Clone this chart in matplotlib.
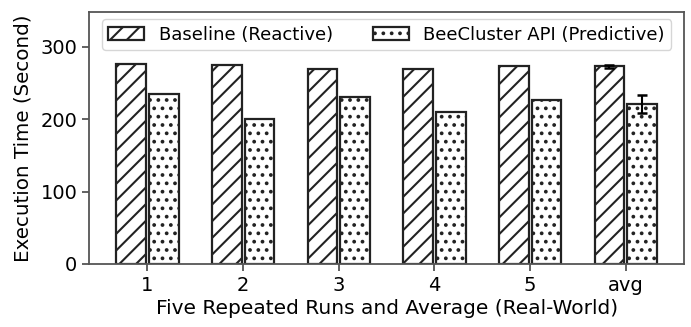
import matplotlib
matplotlib.use("Agg")
import matplotlib.pyplot as plt
import numpy as np

categories = ["1", "2", "3", "4", "5", "avg"]
baseline = [276, 275, 270, 269, 274, 273]
beecluster = [235, 200, 230, 210, 227, 221]
baseline_err = [0, 0, 0, 0, 0, 2]
beecluster_err = [0, 0, 0, 0, 0, 13]

plt.rcParams['hatch.linewidth'] = 1.5
fig, ax = plt.subplots(figsize=(6.91, 3.27), dpi=100)
x = np.arange(len(categories))
w = 0.31
off = 0.17
ax.bar(x - off, baseline, w, color='white', edgecolor='#222222', hatch='//',
       linewidth=1.6, label='Baseline (Reactive)')
ax.bar(x + off, beecluster, w, color='white', edgecolor='#222222', hatch='..',
       linewidth=1.6, label='BeeCluster API (Predictive)')
ekw = dict(fmt='none', elinewidth=1.5, capthick=1.8, ecolor='black', capsize=3.5)
for vals, errs, sh in [(baseline, baseline_err, -off), (beecluster, beecluster_err, off)]:
    idx = [i for i, e in enumerate(errs) if e > 0]
    ax.errorbar(x[idx] + sh, [vals[i] for i in idx], yerr=[errs[i] for i in idx], **ekw)
ax.set_xticks(x)
ax.set_xticklabels(categories)
ax.set_xlim(-0.61, 5.61)
ax.set_ylim(0, 348)
ax.set_yticks([0, 100, 200, 300])
ax.tick_params(labelsize=14, color='#555555', width=1.3, length=5)
ax.set_xlabel('Five Repeated Runs and Average (Real-World)', fontsize=14.5, labelpad=3)
ax.set_ylabel('Execution Time (Second)', fontsize=14.3, labelpad=6)
for s in ax.spines.values():
    s.set_color('#555555')
    s.set_linewidth(1.3)
ax.legend(loc='upper center', ncol=2, fontsize=13, handlelength=2.0,
          handletextpad=0.8, columnspacing=2.2, borderaxespad=0.4,
          borderpad=0.35, frameon=True)
fig.subplots_adjust(left=0.129, right=0.99, top=0.963, bottom=0.193)
fig.savefig('out.png', dpi=100)
